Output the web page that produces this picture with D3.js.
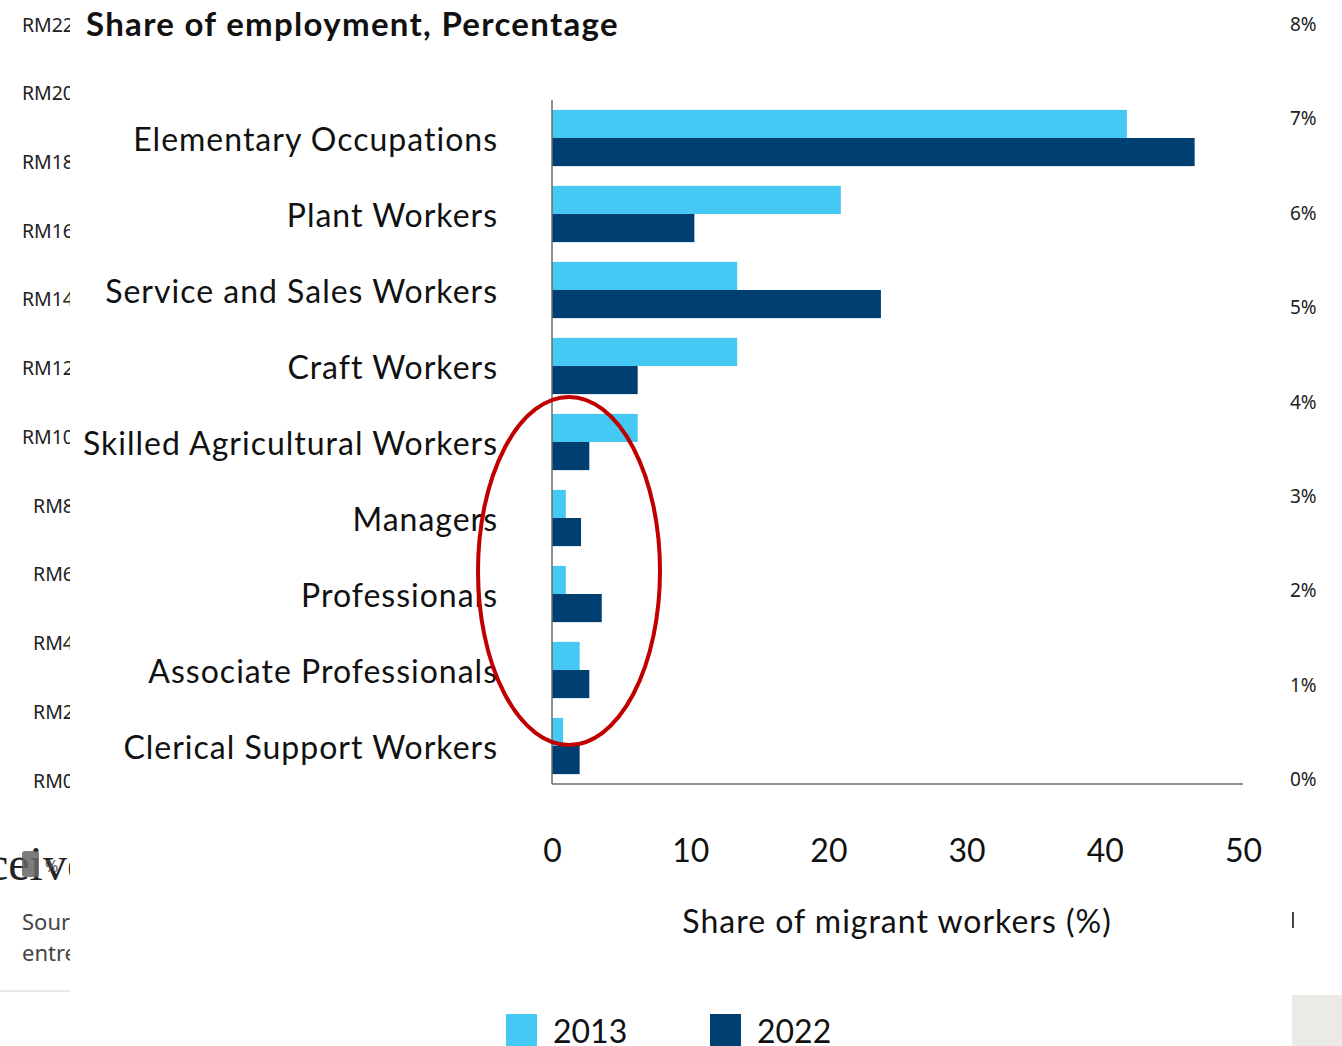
<!DOCTYPE html>
<html>
<head>
<meta charset="utf-8">
<script src="https://cdn.jsdelivr.net/npm/d3@7"></script>
<style>
  html, body { margin: 0; padding: 0; background: #fff; }
  svg { display: block; }
</style>
</head>
<body>
<svg id="chart" width="1342" height="1046"></svg>
<script>
// Occupation groups, top to bottom
const categories = [
  "Elementary Occupations",
  "Plant Workers",
  "Service and Sales Workers",
  "Craft Workers",
  "Skilled Agricultural Workers",
  "Managers",
  "Professionals",
  "Associate Professionals",
  "Clerical Support Workers"
];
// Share of migrant workers (%) by year
const values2013 = [41.6, 20.9, 13.4, 13.4, 6.2, 1.0, 1.0, 2.0, 0.8];
const values2022 = [46.5, 10.3, 23.8, 6.2, 2.7, 2.1, 3.6, 2.7, 2.0];
const seriesNames = ["2013", "2022"];
const xTicks = [0, 10, 20, 30, 40, 50];

// Side panel tick labels
const rmTicks = [0, 2, 4, 6, 8, 10, 12, 14, 16, 18, 20, 22];
const pctTicks = [0, 1, 2, 3, 4, 5, 6, 7, 8];

const colors = { "2013": "#45c8f4", "2022": "#003f72" };
const labelFont = "Lato, 'Open Sans', sans-serif";

const svg = d3.select("#chart");

// ---- Main bar chart ----
const x = d3.scaleLinear().domain([0, 50]).range([552, 1243]);
const y = d3.scaleBand().domain(categories).range([100, 784])
  .paddingInner(0.26).paddingOuter(0.13);
const ySub = d3.scaleBand().domain(seriesNames).range([0, y.bandwidth()]);

const rows = categories.map((c, i) => ({ c, v: { "2013": values2013[i], "2022": values2022[i] } }));

const groups = svg.append("g").selectAll("g").data(rows).join("g")
  .attr("transform", d => `translate(0,${y(d.c)})`);
groups.selectAll("rect").data(d => seriesNames.map(s => ({ s, v: d.v[s] }))).join("rect")
  .attr("x", x(0))
  .attr("y", d => ySub(d.s))
  .attr("width", d => x(d.v) - x(0))
  .attr("height", ySub.bandwidth())
  .attr("fill", d => colors[d.s]);

// Category labels
svg.append("g").selectAll("text").data(categories).join("text")
  .attr("x", 498)
  .attr("y", d => y(d) + y.bandwidth() / 2)
  .attr("text-anchor", "end")
  .attr("dominant-baseline", "central")
  .attr("font-family", labelFont)
  .attr("font-size", 32)
  .attr("letter-spacing", 1)
  .attr("fill", "#111")
  .text(d => d);

// Axis lines
svg.append("line").attr("x1", x(0)).attr("x2", x(0)).attr("y1", 100).attr("y2", 784)
  .attr("stroke", "#6b6b6b").attr("stroke-width", 1.5);
svg.append("line").attr("x1", x(0)).attr("x2", x(50)).attr("y1", 784).attr("y2", 784)
  .attr("stroke", "#6b6b6b").attr("stroke-width", 1.5);

// X tick labels
const xAxis = d3.axisBottom(x).tickValues(xTicks).tickSize(0).tickPadding(0);
const gx = svg.append("g").attr("transform", "translate(0,849)").call(xAxis);
gx.select(".domain").remove();
gx.selectAll("text")
  .attr("dy", null)
  .attr("dominant-baseline", "central")
  .attr("font-family", labelFont)
  .attr("font-size", 32)
  .attr("fill", "#111");

svg.append("text").attr("x", 897).attr("y", 920)
  .attr("text-anchor", "middle").attr("dominant-baseline", "central")
  .attr("font-family", labelFont).attr("font-size", 32).attr("letter-spacing", 1)
  .attr("fill", "#111")
  .text("Share of migrant workers (%)");

// Title
svg.append("text").attr("x", 86).attr("y", 23)
  .attr("dominant-baseline", "central")
  .attr("font-family", labelFont).attr("font-weight", "bold")
  .attr("font-size", 33).attr("letter-spacing", 1.3).attr("fill", "#111")
  .text("Share of employment, Percentage");

// Highlight ellipse around the smaller groups
svg.append("ellipse")
  .attr("cx", 569).attr("cy", 571).attr("rx", 91).attr("ry", 174)
  .attr("fill", "none").attr("stroke", "#c00000").attr("stroke-width", 4);

// Legend
const legend = svg.append("g").selectAll("g").data(seriesNames).join("g")
  .attr("transform", (d, i) => `translate(${506 + i * 204},1014)`);
legend.append("rect").attr("width", 31).attr("height", 32).attr("fill", d => colors[d]);
legend.append("text").attr("x", 47).attr("y", 16)
  .attr("dominant-baseline", "central")
  .attr("font-family", labelFont).attr("font-size", 32).attr("fill", "#111")
  .text(d => d);

// ---- Left side panel (clipped) ----
svg.append("clipPath").attr("id", "leftClip")
  .append("rect").attr("x", 0).attr("y", 0).attr("width", 70).attr("height", 1046);
const left = svg.append("g").attr("clip-path", "url(#leftClip)");
const yRm = d3.scaleLinear().domain([0, 22]).range([780, 24]);
left.selectAll("text.rm").data(rmTicks).join("text")
  .attr("class", "rm")
  .attr("x", 74).attr("y", d => yRm(d))
  .attr("text-anchor", "end").attr("dominant-baseline", "central")
  .attr("font-family", "'Noto Sans', sans-serif").attr("font-size", 19.5).attr("fill", "#222")
  .text(d => "RM" + d);
left.append("text").attr("x", -13).attr("y", 880)
  .attr("font-family", "'Liberation Serif', serif").attr("font-size", 48).attr("fill", "#222")
  .text("ceive");
left.append("rect").attr("x", 22).attr("y", 851).attr("width", 17).attr("height", 26)
  .attr("rx", 3).attr("fill", "#666").attr("opacity", 0.85);
left.append("text").attr("x", 45).attr("y", 866)
  .attr("dominant-baseline", "central")
  .attr("font-family", "'Noto Sans', sans-serif").attr("font-size", 16).attr("fill", "#555")
  .text("%");
left.append("text").attr("x", 22).attr("y", 921)
  .attr("dominant-baseline", "central")
  .attr("font-family", "'Noto Sans', sans-serif").attr("font-size", 22).attr("fill", "#444")
  .text("Source");
left.append("text").attr("x", 22).attr("y", 952)
  .attr("dominant-baseline", "central")
  .attr("font-family", "'Noto Sans', sans-serif").attr("font-size", 22).attr("fill", "#444")
  .text("entrepreneurs");
left.append("line").attr("x1", 0).attr("x2", 70).attr("y1", 991).attr("y2", 991)
  .attr("stroke", "#e2e2e2").attr("stroke-width", 1.5);

// ---- Right side panel ----
const yPct = d3.scaleLinear().domain([0, 8]).range([779, 24]);
svg.append("g").selectAll("text").data(pctTicks).join("text")
  .attr("x", 1290).attr("y", d => yPct(d))
  .attr("dominant-baseline", "central")
  .attr("font-family", "'Noto Sans', sans-serif").attr("font-size", 19).attr("fill", "#222")
  .text(d => d + "%");
svg.append("rect").attr("x", 1292).attr("y", 912).attr("width", 2).attr("height", 16).attr("fill", "#444");
svg.append("rect").attr("x", 1292).attr("y", 995).attr("width", 50).attr("height", 51).attr("fill", "#ebeae7");
</script>
</body>
</html>
